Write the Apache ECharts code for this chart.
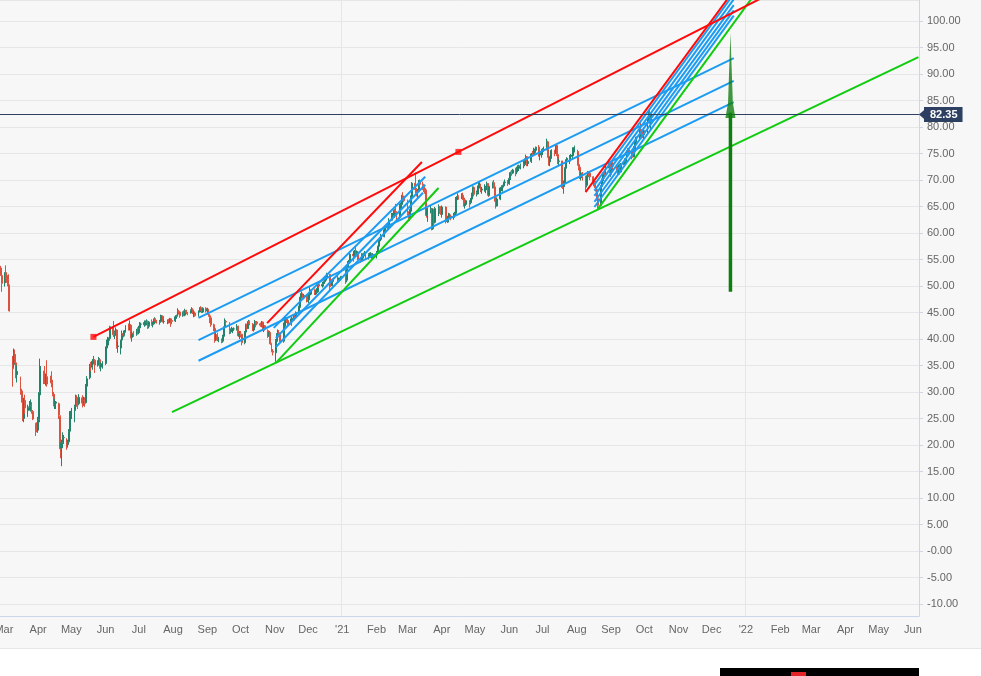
<!DOCTYPE html>
<html>
<head>
<meta charset="utf-8">
<script src="https://cdn.jsdelivr.net/npm/echarts@6.0.0/dist/echarts.min.js"></script>
<style>
  html, body { margin: 0; padding: 0; background: #fff; }
  #chart {
    width: 981px; height: 676px;
    background: linear-gradient(#f7f7f7 0, #f7f7f7 648px, #e6e6e6 648px, #e6e6e6 649px, #fff 649px);
  }
</style>
</head>
<body>
<div id="chart"></div>
<script>
// daily candles [open, close, low, high], one row per trading day
const start2020 = '2020-02-27';
const ohlc2020 = [
  // Feb
  [53.4, 52.2, 51.9, 53.8], [52.0, 50.5, 48.9, 52.3],
  // Mar
  [50.6, 51.9, 49.9, 52.6], [52.0, 51.9, 51.0, 53.9], [52.0, 51.1, 50.6, 52.6], [51.2, 50.0, 49.6, 52.2], [50.1, 45.3, 45.2, 50.3],
  [35.0, 34.4, 31.0, 36.8], [35.2, 37.2, 34.7, 38.2], [37.1, 35.8, 35.4, 38.0], [35.5, 33.2, 32.6, 36.3], [33.3, 33.9, 31.8, 35.0],
  [32.0, 30.1, 29.5, 32.9], [30.2, 28.7, 28.0, 30.6], [28.8, 24.9, 24.5, 29.4], [25.0, 28.5, 24.3, 28.9], [28.4, 27.0, 25.9, 29.5],
  [26.5, 27.0, 25.3, 27.6], [27.1, 27.2, 26.5, 28.3], [27.2, 27.4, 26.3, 28.6], [27.3, 26.3, 25.9, 28.1], [26.3, 24.9, 24.7, 26.6],
  [24.0, 22.8, 21.7, 24.2], [22.9, 22.7, 22.4, 24.3],
  // Apr
  [22.8, 24.7, 22.3, 25.3], [24.8, 29.9, 24.3, 36.3], [30.1, 34.1, 29.4, 34.9],
  [33.5, 33.1, 31.5, 34.0], [33.2, 31.9, 31.5, 34.9], [32.0, 32.8, 31.2, 33.5], [32.9, 31.5, 31.0, 36.0],
  [33.0, 31.7, 30.9, 33.9], [31.8, 29.6, 29.2, 32.3], [29.6, 27.7, 27.3, 30.0], [27.7, 27.8, 26.8, 28.7], [27.9, 28.1, 26.8, 28.3],
  [27.8, 25.6, 24.9, 28.0], [25.4, 19.3, 17.5, 25.6], [19.4, 20.4, 16.0, 21.0], [20.5, 21.3, 19.4, 22.4], [21.4, 21.4, 20.2, 21.9],
  [20.5, 20.0, 19.1, 21.3], [20.1, 20.5, 19.5, 21.0], [20.6, 22.5, 20.3, 23.0], [22.6, 25.3, 22.4, 26.4],
  // May
  [25.3, 26.4, 24.9, 27.0],
  [26.5, 27.2, 24.3, 27.6], [27.3, 29.0, 27.0, 29.5], [29.0, 28.0, 27.3, 29.4], [28.1, 27.8, 26.8, 28.9], [27.8, 29.0, 27.5, 29.6],
  [28.9, 27.9, 27.1, 29.4], [27.9, 28.4, 27.4, 29.1], [28.4, 28.0, 27.2, 29.0], [28.0, 31.1, 27.8, 31.5], [31.1, 32.5, 30.6, 33.0],
  [32.7, 34.8, 32.4, 35.3], [34.8, 34.7, 33.9, 35.7], [34.7, 35.8, 34.2, 36.2], [35.8, 36.1, 35.2, 36.8], [36.0, 35.1, 33.6, 36.2],
  [35.1, 35.6, 34.8, 36.0], [35.6, 36.2, 35.0, 36.6], [36.1, 34.7, 34.4, 36.4], [34.7, 35.3, 33.9, 35.6], [35.3, 35.3, 34.4, 35.8],
  // Jun
  [35.4, 38.3, 35.1, 38.6], [38.3, 39.6, 37.9, 39.9], [39.5, 39.8, 38.9, 40.4], [39.8, 40.0, 38.8, 40.3], [40.1, 42.3, 39.7, 42.5],
  [42.2, 40.8, 40.4, 43.4], [40.9, 41.2, 40.0, 41.6], [41.2, 41.7, 40.6, 42.2], [41.7, 38.6, 38.2, 41.8], [38.6, 38.7, 37.4, 39.5],
  [38.3, 39.7, 37.1, 39.9], [39.8, 41.0, 39.6, 41.6], [41.0, 40.7, 40.3, 41.6], [40.7, 41.5, 40.5, 41.7], [41.5, 42.2, 41.2, 42.6],
  [42.1, 42.1, 41.6, 42.9], [42.1, 42.6, 41.6, 43.5], [42.6, 40.3, 40.1, 42.8], [40.3, 41.1, 39.5, 41.3], [41.1, 41.0, 40.4, 41.5],
  [40.9, 41.7, 40.6, 41.9], [41.7, 41.2, 40.9, 42.2],
  // Jul
  [41.2, 42.0, 40.9, 42.5], [42.1, 42.8, 42.0, 43.2], [42.8, 42.8, 42.4, 43.1],
  [42.7, 43.1, 42.3, 43.5], [43.1, 43.1, 42.5, 43.5], [43.1, 43.3, 42.6, 43.7], [43.3, 42.4, 41.9, 43.5], [42.4, 43.2, 42.0, 43.4],
  [43.3, 42.7, 42.5, 43.7], [42.7, 42.9, 42.2, 43.2], [42.9, 43.8, 42.8, 44.1], [43.8, 43.4, 43.0, 43.9], [43.4, 43.1, 42.9, 43.6],
  [43.1, 43.3, 42.7, 43.6], [43.3, 44.3, 43.2, 44.6], [44.3, 44.3, 43.6, 44.5], [44.3, 43.3, 43.1, 44.4], [43.3, 43.3, 42.9, 43.7],
  [43.3, 43.4, 42.8, 43.7], [43.4, 43.2, 42.9, 43.8], [43.2, 43.8, 43.0, 44.0], [43.8, 43.5, 42.3, 43.9], [43.5, 43.3, 42.8, 43.6],
  // Aug
  [43.4, 44.2, 43.2, 44.4], [44.2, 44.4, 43.8, 44.6], [44.4, 45.2, 44.2, 45.8], [45.2, 45.1, 44.6, 45.5], [45.1, 44.4, 44.0, 45.2],
  [44.4, 45.0, 44.2, 45.2], [45.0, 44.5, 44.3, 45.4], [44.5, 45.4, 44.3, 45.7], [45.4, 45.0, 44.7, 45.5], [45.0, 44.8, 44.5, 45.1],
  [44.9, 45.4, 44.8, 45.6], [45.4, 45.5, 45.1, 46.0], [45.5, 44.9, 44.7, 45.8], [44.9, 44.9, 44.1, 45.2], [44.9, 44.4, 44.2, 45.2],
  [44.4, 45.1, 44.2, 45.4], [45.1, 45.9, 45.0, 46.0], [45.9, 45.6, 45.3, 46.2], [45.6, 45.1, 44.9, 45.9], [45.1, 45.8, 44.9, 46.0],
  [45.8, 45.3, 45.0, 46.0],
  // Sep
  [45.3, 45.6, 44.6, 45.9], [45.6, 44.4, 44.2, 45.7], [44.4, 44.1, 43.0, 44.7], [44.0, 42.7, 42.3, 44.1],
  [42.7, 42.0, 41.5, 42.9], [42.0, 39.8, 39.3, 42.1], [39.8, 40.8, 39.6, 41.2], [40.8, 39.8, 39.6, 41.2], [39.8, 39.8, 39.4, 40.4],
  [39.8, 39.6, 39.2, 40.1], [39.6, 40.5, 39.3, 40.8], [40.5, 42.2, 40.3, 42.4], [42.2, 43.3, 41.9, 43.9], [43.3, 43.2, 42.6, 43.6],
  [43.1, 41.4, 40.9, 43.2], [41.4, 41.7, 41.0, 42.0], [41.7, 41.8, 41.3, 42.3], [41.8, 41.9, 41.1, 42.1], [41.9, 41.9, 41.5, 42.2],
  [41.9, 42.4, 41.6, 42.8], [42.4, 40.6, 40.4, 42.5], [40.6, 41.0, 40.0, 41.5],
  // Oct
  [41.0, 40.9, 40.3, 41.5], [40.9, 39.3, 38.8, 41.0],
  [39.3, 41.3, 39.0, 41.5], [41.3, 42.7, 41.2, 42.9], [42.7, 42.0, 41.7, 42.9], [42.0, 43.3, 41.9, 43.6], [43.3, 42.9, 42.6, 43.5],
  [42.8, 41.7, 41.5, 43.0], [41.7, 42.5, 41.4, 42.7], [42.5, 43.3, 42.2, 43.6], [43.3, 43.2, 42.2, 43.4], [43.2, 42.9, 42.6, 43.4],
  [42.9, 42.6, 42.3, 43.1], [42.6, 43.2, 42.2, 43.4], [43.2, 41.7, 41.5, 43.3], [41.7, 42.5, 41.3, 42.7], [42.5, 41.8, 41.6, 42.6],
  [41.6, 40.5, 40.2, 41.8], [40.5, 41.2, 40.4, 41.5], [41.2, 39.1, 38.9, 41.3], [39.1, 37.7, 37.5, 39.3], [37.7, 37.5, 36.9, 38.1],
  // Nov
  [37.4, 39.7, 35.7, 40.0], [39.7, 40.7, 39.3, 41.1], [40.7, 41.2, 39.5, 41.8], [41.2, 40.9, 40.3, 41.7], [40.9, 39.5, 39.3, 41.0],
  [39.6, 42.4, 39.3, 43.1], [42.4, 43.6, 41.9, 43.9], [43.6, 43.8, 43.1, 44.3], [43.8, 43.5, 43.0, 44.0], [43.5, 42.8, 42.4, 43.6],
  [42.8, 43.8, 42.5, 44.2], [43.8, 43.8, 43.3, 44.0], [43.8, 44.3, 43.6, 44.5], [44.3, 44.2, 43.5, 44.6], [44.2, 45.0, 43.9, 45.2],
  [45.0, 46.1, 44.8, 46.3], [46.1, 47.9, 45.9, 48.0], [47.9, 48.6, 47.6, 49.0], [48.6, 47.8, 47.4, 48.7], [47.8, 48.2, 47.5, 48.5],
  [48.2, 47.6, 46.9, 48.4],
  // Dec
  [47.6, 47.4, 47.0, 48.3], [47.4, 48.3, 46.8, 48.5], [48.3, 48.7, 47.8, 49.9], [48.7, 49.3, 48.4, 49.4],
  [49.3, 48.8, 48.3, 49.5], [48.8, 48.8, 48.3, 49.1], [48.8, 48.9, 48.4, 49.6], [48.9, 50.3, 48.7, 50.5], [50.3, 50.0, 49.6, 50.7],
  [50.0, 50.3, 49.7, 50.8], [50.3, 50.8, 49.9, 51.0], [50.8, 51.1, 50.4, 51.3], [51.1, 51.5, 50.9, 51.9], [51.5, 52.3, 51.2, 52.5],
  [52.2, 50.9, 49.2, 52.3], [50.9, 50.1, 49.8, 51.0], [50.1, 51.2, 49.9, 51.4], [51.2, 51.3, 50.8, 51.6],
  [51.3, 50.9, 50.7, 52.0], [50.9, 51.1, 50.6, 51.6], [51.1, 51.3, 50.9, 51.6], [51.3, 51.8, 51.2, 51.9]
];

const start2021 = '2021-01-04';
const ohlc2021 = [
  // Jan
  [51.8, 51.1, 50.4, 53.5], [51.1, 53.6, 50.7, 54.0], [53.6, 54.3, 53.3, 54.7], [54.3, 54.4, 53.9, 54.9], [54.4, 56.0, 54.3, 56.3],
  [56.0, 55.7, 54.6, 56.2], [55.7, 56.6, 55.2, 56.8], [56.6, 56.1, 55.8, 57.4], [56.1, 56.4, 55.6, 56.7], [56.4, 55.1, 54.9, 56.6],
  [55.1, 54.8, 54.4, 55.4], [54.8, 55.9, 54.6, 56.2], [55.9, 56.1, 55.2, 56.3], [56.1, 56.1, 55.6, 56.6], [56.1, 55.4, 54.9, 56.1],
  [55.4, 55.9, 55.0, 56.2], [55.9, 55.9, 55.5, 56.3], [55.9, 56.0, 55.3, 56.4], [56.0, 55.5, 54.8, 56.2], [55.5, 55.9, 55.0, 56.2],
  // Feb
  [55.9, 56.4, 55.2, 56.6], [56.4, 57.5, 56.2, 57.6], [57.5, 58.5, 57.3, 58.8], [58.5, 58.8, 57.8, 59.2], [58.8, 59.3, 58.6, 59.8],
  [59.3, 60.6, 59.2, 60.9], [60.6, 61.1, 60.3, 61.4], [61.1, 61.5, 60.9, 61.7], [61.5, 61.1, 60.7, 61.7], [61.1, 62.4, 60.9, 62.8],
  [62.4, 63.3, 62.3, 63.8], [63.3, 63.4, 62.6, 63.8], [63.4, 64.3, 62.9, 64.5], [64.3, 63.9, 63.4, 65.5], [63.9, 62.9, 62.3, 64.1],
  [62.9, 65.2, 62.6, 65.5], [65.2, 65.4, 64.5, 65.7], [65.4, 67.0, 64.6, 67.2], [67.0, 66.9, 66.1, 67.7], [66.9, 66.1, 65.8, 67.0],
  // Mar
  [66.1, 63.7, 63.3, 66.3], [63.7, 62.7, 62.2, 64.1], [62.7, 64.1, 62.3, 64.5], [64.1, 66.7, 63.5, 67.1], [66.7, 69.4, 66.5, 69.6],
  [69.4, 68.2, 67.6, 71.4], [68.2, 67.5, 66.9, 68.5], [67.5, 67.9, 66.4, 68.3], [67.9, 69.6, 67.7, 70.0], [69.6, 69.2, 68.7, 70.1],
  [69.2, 68.9, 68.1, 69.7], [68.9, 68.4, 67.7, 69.0], [68.4, 68.0, 67.4, 68.6], [68.0, 63.3, 62.9, 68.2], [63.3, 64.5, 62.1, 64.8],
  [64.5, 64.6, 63.7, 65.2], [64.6, 60.8, 60.5, 64.7], [60.8, 64.4, 60.6, 64.6], [64.4, 62.0, 61.5, 64.6], [62.0, 64.6, 61.8, 64.9],
  [64.6, 65.0, 63.2, 65.4], [65.0, 64.1, 63.6, 65.1], [64.1, 63.5, 63.4, 64.6],
  // Apr
  [63.5, 64.9, 62.9, 65.2],
  [64.9, 62.2, 61.8, 65.0], [62.2, 62.7, 61.9, 63.1], [62.7, 63.2, 62.0, 63.8], [63.2, 63.2, 62.8, 63.7], [63.2, 63.0, 62.4, 63.5],
  [63.0, 63.3, 62.5, 63.8], [63.3, 63.7, 62.9, 64.0], [63.7, 66.6, 63.6, 66.8], [66.6, 66.9, 66.2, 67.5], [66.9, 66.8, 66.3, 67.1],
  [66.8, 67.1, 66.4, 67.5], [67.1, 66.6, 66.2, 67.6], [66.6, 65.3, 65.0, 66.6], [65.3, 65.4, 64.6, 65.6], [65.4, 66.1, 65.1, 66.3],
  [66.1, 65.7, 64.8, 66.2], [65.7, 66.4, 65.4, 66.6], [66.4, 67.3, 66.2, 67.6], [67.3, 68.6, 67.1, 68.8], [68.6, 67.3, 66.9, 68.8],
  // May
  [67.3, 67.6, 66.9, 68.0], [67.6, 68.9, 67.3, 69.5], [68.9, 69.0, 68.4, 69.7], [69.0, 68.1, 67.7, 69.3], [68.1, 68.3, 67.4, 68.7],
  [68.3, 68.3, 67.8, 69.2], [68.3, 68.6, 67.5, 68.9], [68.6, 69.3, 68.1, 69.7], [69.3, 67.1, 66.8, 69.4], [67.1, 68.7, 67.0, 68.9],
  [68.7, 69.5, 68.4, 69.7], [69.5, 68.7, 68.4, 70.0], [68.7, 66.7, 65.9, 68.8], [66.7, 65.1, 64.6, 67.0], [65.1, 66.4, 65.0, 66.6],
  [66.4, 68.5, 66.2, 68.7], [68.5, 68.7, 67.9, 69.0], [68.7, 68.9, 67.8, 69.1], [68.9, 69.5, 68.6, 69.7], [69.5, 69.6, 68.9, 70.1],
  [69.6, 69.3, 68.9, 70.0],
  // Jun
  [69.3, 70.3, 69.1, 71.0], [70.3, 71.4, 70.0, 71.6], [71.4, 71.3, 70.8, 71.9], [71.3, 71.9, 71.1, 72.1],
  [71.9, 71.5, 70.7, 72.3], [71.5, 72.2, 71.1, 72.5], [72.2, 72.2, 71.7, 72.8], [72.2, 72.5, 71.7, 72.9], [72.5, 72.7, 72.0, 73.1],
  [72.7, 72.9, 72.2, 73.6], [72.9, 74.0, 72.6, 74.0], [74.0, 74.4, 73.4, 74.8], [74.4, 73.1, 72.6, 74.5], [73.1, 73.5, 72.6, 73.8],
  [73.5, 74.9, 73.2, 75.1], [74.9, 74.8, 74.4, 75.5], [74.8, 75.2, 74.5, 76.1], [75.2, 75.6, 74.9, 75.9], [75.6, 76.2, 75.2, 76.3],
  [76.2, 74.7, 74.4, 76.6], [74.7, 74.8, 73.7, 75.2], [74.8, 75.1, 74.2, 75.5],
  // Jul
  [75.1, 75.8, 74.7, 76.0], [75.8, 76.2, 75.3, 76.3],
  [76.2, 77.2, 75.6, 77.8], [77.2, 74.5, 74.2, 77.4], [74.5, 73.4, 72.7, 75.4], [73.4, 74.1, 72.6, 74.3], [74.1, 75.6, 74.0, 75.8],
  [75.6, 75.2, 74.5, 75.7], [75.2, 76.5, 74.9, 76.8], [76.5, 74.8, 74.5, 76.6], [74.8, 73.5, 73.0, 74.9], [73.5, 73.6, 72.8, 74.0],
  [73.6, 68.6, 68.3, 73.6], [68.6, 69.4, 67.4, 69.9], [69.4, 72.2, 68.7, 72.4], [72.2, 73.8, 71.6, 73.9], [73.8, 74.1, 73.2, 74.3],
  [74.1, 74.5, 73.0, 74.7], [74.5, 74.5, 73.5, 74.9], [74.5, 74.7, 73.8, 75.2], [74.7, 76.1, 74.5, 76.2], [76.1, 76.3, 75.2, 76.5],
  // Aug
  [75.4, 72.9, 72.7, 75.7], [72.9, 72.4, 71.8, 73.3], [72.4, 70.4, 70.2, 72.9], [70.4, 71.3, 69.9, 71.6], [71.3, 70.7, 69.9, 71.5],
  [70.7, 69.0, 67.9, 70.8], [69.0, 70.6, 68.6, 70.9], [70.6, 71.4, 70.4, 71.7], [71.4, 71.3, 70.7, 71.6], [71.3, 70.6, 70.0, 71.4],
  [70.6, 69.5, 68.8, 70.7], [69.5, 69.0, 68.5, 70.0], [69.0, 68.2, 67.8, 69.8], [68.2, 66.5, 66.1, 68.3], [66.5, 65.2, 64.6, 66.6],
  [65.2, 68.8, 65.1, 69.0], [68.8, 70.1, 68.4, 70.3], [70.1, 71.3, 69.8, 71.5], [71.3, 71.1, 70.3, 72.0], [71.1, 72.7, 70.7, 72.9],
  [72.7, 73.4, 72.2, 73.8], [73.4, 71.6, 71.3, 73.5],
  // Sep
  [71.6, 71.6, 70.6, 71.9], [71.6, 73.0, 71.0, 73.3], [73.0, 72.6, 72.0, 73.5],
  [72.6, 72.2, 71.6, 72.8], [72.2, 71.7, 71.1, 72.8], [71.7, 72.6, 71.3, 72.9], [72.6, 71.5, 71.0, 73.1], [71.5, 72.9, 71.4, 73.2],
  [72.9, 73.5, 72.7, 74.1], [73.5, 73.6, 72.9, 74.0], [73.6, 75.5, 73.4, 75.6], [75.5, 75.7, 74.8, 76.0], [75.7, 75.3, 74.9, 76.0],
  [75.3, 74.9, 73.9, 75.4], [74.9, 74.4, 74.2, 75.9], [74.4, 76.2, 74.3, 76.4], [76.2, 77.3, 75.8, 77.5], [77.3, 78.1, 76.6, 78.2],
  [78.1, 79.5, 77.7, 79.6], [79.5, 79.1, 78.7, 80.8], [79.1, 78.6, 77.8, 79.2], [78.6, 78.5, 77.9, 79.2],
  // Oct
  [78.5, 79.3, 77.6, 79.5],
  [79.3, 81.3, 78.7, 81.5], [81.3, 82.6, 81.0, 83.1], [82.6, 81.1, 80.6, 83.5], [81.1, 81.9, 79.6, 82.2], [81.9, 82.35, 81.5, 82.8]
];
const holidays = ['2020-04-10', '2020-12-25', '2021-01-01', '2021-04-02'];

// trend lines drawn on the chart, [date, price] end points
const redLines = [
  [['2020-05-21', 40.4], ['2021-04-16', 75.3], ['2022-01-31', 106.0]],
  [['2020-10-25', 43.0], ['2021-03-14', 73.4]],
  [['2021-08-09', 67.7], ['2021-12-31', 108.6]]
];
const redAnchors = ['2020-05-21', '2021-04-16'];
const greenLines = [
  [['2020-07-31', 26.2], ['2022-06-06', 93.2]],
  [['2020-11-02', 35.5], ['2021-03-29', 68.5]],
  [['2021-08-20', 64.5], ['2022-01-13', 106.2]]
];
const blueLines = [
  [['2020-08-24', 44.0], ['2021-12-21', 93.0]],
  [['2020-08-24', 39.8], ['2021-12-21', 88.7]],
  [['2020-08-24', 35.9], ['2021-12-21', 84.7]],
  [['2020-10-31', 42.1], ['2021-03-17', 70.6]],
  [['2020-11-02', 40.2], ['2021-03-17', 69.1]],
  [['2020-11-02', 38.5], ['2021-03-15', 67.6]],
  [['2021-08-17', 69.1], ['2021-12-21', 105.1]],
  [['2021-08-17', 68.0], ['2021-12-21', 104.1]],
  [['2021-08-17', 67.0], ['2021-12-21', 103.0]],
  [['2021-08-17', 65.9], ['2021-12-21', 102.0]],
  [['2021-08-17', 64.9], ['2021-12-21', 101.0]]
];
const arrowDate = '2021-12-18';
const arrowFrom = 48.9;
const arrowHeadBase = 81.7;
const arrowTip = 97.7;

const months = ['Jan', 'Feb', 'Mar', 'Apr', 'May', 'Jun', 'Jul', 'Aug', 'Sep', 'Oct', 'Nov', 'Dec'];
const axisFirstDay = '2020-02-27';
const axisLastDay = '2022-06-06';

const DAY = 86400000;
const fmt = t => new Date(t).toISOString().slice(0, 10);
const parse = s => Date.parse(s + 'T00:00:00Z');

const days = [];
for (let t = parse(axisFirstDay); t <= parse(axisLastDay); t += DAY) days.push(fmt(t));

function withDates(startDay, rows) {
  const out = [];
  let t = parse(startDay);
  while (out.length < rows.length) {
    const s = fmt(t);
    const wd = new Date(t).getUTCDay();
    if (wd !== 0 && wd !== 6 && holidays.indexOf(s) < 0) out.push([s].concat(rows[out.length]));
    t += DAY;
  }
  return out;
}
const candles = withDates(start2020, ohlc2020).concat(withDates(start2021, ohlc2021));
const lastPrice = ohlc2021[ohlc2021.length - 1][1];

const isMonthStart = (i, v) => v.slice(8) === '01';
const isYearStart = (i, v) => v.slice(5) === '01-01';
const narrow = '"Liberation Sans Narrow", "Arial Narrow", "Liberation Sans", sans-serif';
const sans = '"Liberation Sans", Arial, sans-serif';

function trend(points, color) {
  return {
    type: 'line', data: points, symbol: 'none', silent: true, z: 4,
    lineStyle: { color: color, width: 2 }, animation: false
  };
}

const series = [
  {
    type: 'candlestick',
    data: candles,
    encode: { x: 0, y: [1, 2, 3, 4] },
    barWidth: 1.4,
    itemStyle: {
      color: '#23836a', color0: '#db523e',
      borderColor: '#23836a', borderColor0: '#db523e', borderWidth: 1
    },
    markLine: {
      silent: true, symbol: ['none', 'none'], animation: false,
      lineStyle: { color: '#2d4061', width: 1, type: 'solid' },
      label: {
        position: 'end', formatter: lastPrice.toFixed(2), color: '#fff', fontWeight: 'bold',
        fontSize: 11, fontFamily: sans, backgroundColor: '#2d4061', padding: [2, 5, 2, 6], distance: 5
      },
      data: [{ yAxis: lastPrice }]
    },
    markPoint: {
      silent: true, animation: false,
      symbol: 'triangle', symbolSize: [12, 7], symbolRotate: 90, symbolOffset: [4, 0],
      itemStyle: { color: '#2d4061' }, label: { show: false },
      data: [{ coord: [axisLastDay, lastPrice] }]
    }
  }
];
blueLines.forEach(p => series.push(trend(p, '#1b9cf2')));
greenLines.forEach(p => series.push(trend(p, '#0fcc0f')));
redLines.forEach(p => series.push(trend(p, '#ff0a0a')));
series.push({
  type: 'scatter', silent: true, z: 6, symbol: 'rect', symbolSize: 6,
  itemStyle: { color: '#ff0a0a' },
  data: redAnchors.map(d => redLines[0].find(p => p[0] === d))
});
series.push({
  type: 'line', symbol: 'none', silent: true, z: 6,
  lineStyle: { color: '#0f7d0f', width: 3.5 },
  data: [[arrowDate, arrowFrom], [arrowDate, arrowHeadBase + 1]]
});
series.push({
  type: 'scatter', silent: true, z: 6,
  symbol: 'path://M5,0 L7.4,82 L10,100 L0,100 L2.6,82 Z',
  symbolSize: [10, 85],
  itemStyle: { color: '#0f7d0f' },
  data: [[arrowDate, (arrowTip + arrowHeadBase) / 2]]
});

const chart = echarts.init(document.getElementById('chart'));
chart.setOption({
  animation: false,
  backgroundColor: 'transparent',
  grid: { left: 0, right: 62, top: 0, bottom: 60, containLabel: false, outerBoundsMode: 'none' },
  xAxis: {
    type: 'category',
    data: days,
    axisLine: { onZero: false, lineStyle: { color: '#ccd6eb' } },
    axisTick: { alignWithLabel: true, interval: isMonthStart, length: 5, lineStyle: { color: '#ccd6eb' } },
    axisLabel: {
      interval: isMonthStart, margin: 8, color: '#666', fontSize: 11, fontFamily: narrow,
      formatter: v => v.slice(5, 7) === '01' ? "'" + v.slice(2, 4) : months[+v.slice(5, 7) - 1]
    },
    splitLine: { show: true, interval: isYearStart, lineStyle: { color: '#e6e6e6' } }
  },
  yAxis: {
    type: 'value', position: 'right',
    min: -12.26, max: 103.96, splitNumber: 23, minInterval: 5, maxInterval: 5,
    axisLine: { show: true, lineStyle: { color: '#ccd6eb' } },
    axisTick: { show: true, length: 4, lineStyle: { color: '#ccd6eb' } },
    axisLabel: {
      margin: 8, color: '#666', fontSize: 11, fontFamily: sans,
      showMinLabel: false, showMaxLabel: false,
      formatter: v => v === 0 ? '-0.00' : v.toFixed(2)
    },
    splitLine: { lineStyle: { color: '#e6e6e6' } }
  },
  graphic: [
    { type: 'rect', left: 720, top: 668, shape: { width: 199, height: 8 }, style: { fill: '#000' } },
    { type: 'rect', left: 791, top: 672, shape: { width: 15, height: 4 }, style: { fill: '#e3232a' } }
  ],
  series: series
});
</script>
</body>
</html>
